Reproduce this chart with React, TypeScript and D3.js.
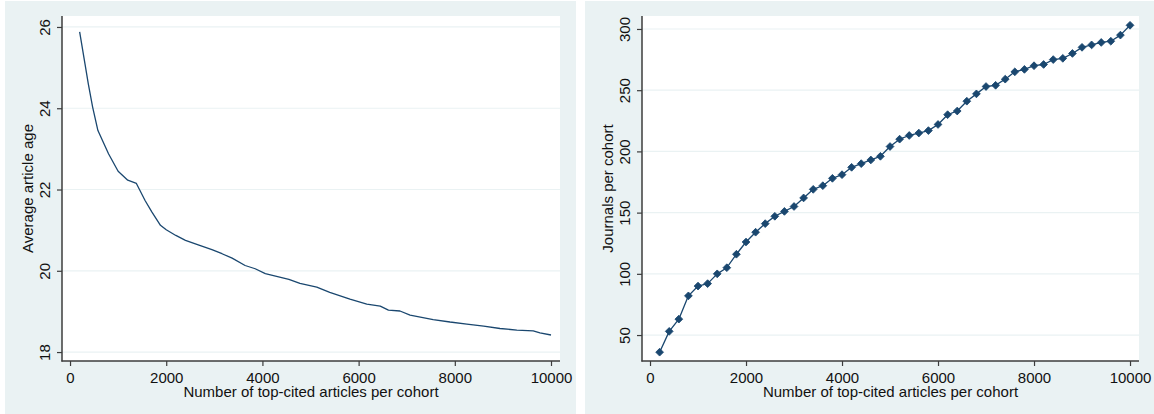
import React, { useEffect, useRef } from "react";
import * as d3 from "d3";

// Left panel: average article age vs number of top-cited articles per cohort
const ageX = [200, 310, 380, 470, 580, 800, 1000, 1200, 1380, 1560, 1700, 1880, 2000, 2200, 2400, 2680, 2950, 3160, 3370, 3640, 3850, 4060, 4550, 4780, 5130, 5400, 5820, 6170, 6450, 6620, 6860, 7070, 7550, 7900, 8250, 8600, 8940, 9290, 9630, 9770, 10000];
const ageY = [25.88, 25.1, 24.6, 24.03, 23.45, 22.88, 22.45, 22.23, 22.15, 21.73, 21.45, 21.12, 21.01, 20.87, 20.75, 20.63, 20.52, 20.42, 20.31, 20.13, 20.05, 19.93, 19.79, 19.69, 19.6, 19.47, 19.3, 19.18, 19.13, 19.03, 19.01, 18.91, 18.8, 18.74, 18.69, 18.64, 18.58, 18.54, 18.52, 18.47, 18.42];

// Right panel: journals per cohort
const journalsX = [200, 400, 600, 800, 1000, 1200, 1400, 1600, 1800, 2000, 2200, 2400, 2600, 2800, 3000, 3200, 3400, 3600, 3800, 4000, 4200, 4400, 4600, 4800, 5000, 5200, 5400, 5600, 5800, 6000, 6200, 6400, 6600, 6800, 7000, 7200, 7400, 7600, 7800, 8000, 8200, 8400, 8600, 8800, 9000, 9200, 9400, 9600, 9800, 10000];
const journalsY = [36, 53, 63, 82, 90, 92, 100, 105, 116, 126, 134, 141, 147, 151, 155, 162, 169, 172, 178, 181, 187, 190, 193, 196, 204, 210, 213, 215, 217, 222, 230, 233, 241, 247, 253, 254, 259, 265, 267, 270, 271, 275, 276, 280, 285, 287, 289, 290, 295, 303];

const xTicks = [0, 2000, 4000, 6000, 8000, 10000];
const ageTicks = [18, 20, 22, 24, 26];
const journalTicks = [50, 100, 150, 200, 250, 300];

const xTitle = "Number of top-cited articles per cohort";
const ageTitle = "Average article age";
const journalsTitle = "Journals per cohort";

const BG = "#eaf2f3";
const NAVY = "#1a476f";
const AXIS = "#3c3c3c";
const FONT = "'Liberation Sans', Arial, sans-serif";

export default function App() {
  const ref = useRef<SVGSVGElement | null>(null);

  useEffect(() => {
    const svg = d3.select(ref.current);
    svg.selectAll("*").remove();

    const panels = [
      {
        bg: [5, 1, 571, 413],
        plot: { x0: 62, x1: 560, y0: 16, y1: 361 },
        yDomain: [17.78, 26.27],
        yTicks: ageTicks,
        xs: ageX,
        ys: ageY,
        yTitle: ageTitle,
        markers: false,
      },
      {
        bg: [585, 1, 569, 413],
        plot: { x0: 642, x1: 1139, y0: 16, y1: 361 },
        yDomain: [28.8, 310.6],
        yTicks: journalTicks,
        xs: journalsX,
        ys: journalsY,
        yTitle: journalsTitle,
        markers: true,
      },
    ];

    panels.forEach((p) => {
      const g = svg.append("g");
      g.append("rect")
        .attr("x", p.bg[0])
        .attr("y", p.bg[1])
        .attr("width", p.bg[2])
        .attr("height", p.bg[3])
        .attr("fill", BG);
      const { x0, x1, y0, y1 } = p.plot;
      g.append("rect")
        .attr("x", x0)
        .attr("y", y0)
        .attr("width", x1 - x0)
        .attr("height", y1 - y0)
        .attr("fill", "#ffffff");

      const x = d3.scaleLinear().domain([-167, 10187]).range([x0, x1]);
      const y = d3.scaleLinear().domain(p.yDomain).range([y1, y0]);

      // gridlines
      g.selectAll(".grid")
        .data(p.yTicks)
        .join("line")
        .attr("x1", x0)
        .attr("x2", x1)
        .attr("y1", (d) => y(d))
        .attr("y2", (d) => y(d))
        .attr("stroke", BG)
        .attr("stroke-width", 1.2);

      // data line
      const pts = p.xs.map((xv, i) => [xv, p.ys[i]] as [number, number]);
      const line = d3
        .line<[number, number]>()
        .x((d) => x(d[0]))
        .y((d) => y(d[1]));
      g.append("path")
        .attr("d", line(pts) || "")
        .attr("fill", "none")
        .attr("stroke", NAVY)
        .attr("stroke-width", 1.3)
        .attr("stroke-linejoin", "round");

      if (p.markers) {
        const sym = d3.symbol().type(d3.symbolSquare).size(30);
        g.selectAll(".mk")
          .data(pts)
          .join("path")
          .attr("d", sym() || "")
          .attr("transform", (d) => `translate(${x(d[0])},${y(d[1])}) rotate(45)`)
          .attr("fill", NAVY)
          .attr("stroke", NAVY)
          .attr("stroke-width", 0.8);
      }

      // axes
      const yAxis = d3.axisLeft(y).tickValues(p.yTicks).tickSize(5).tickPadding(4).tickFormat((d) => String(d));
      const ya = g.append("g").attr("transform", `translate(${x0},0)`).call(yAxis);
      ya.select(".domain").remove();
      ya.selectAll("line").attr("stroke", AXIS).attr("stroke-width", 1.2);
      ya.selectAll("text")
        .attr("transform", "rotate(-90)")
        .attr("x", 0)
        .attr("y", -12)
        .attr("dy", 0)
        .attr("text-anchor", "middle")
        .attr("font-family", FONT)
        .attr("font-size", 15)
        .attr("fill", "#111");
      ya.attr("font-family", null).attr("font-size", null);
      g.append("line")
        .attr("x1", x0)
        .attr("x2", x0)
        .attr("y1", y0)
        .attr("y2", y1 + 0.6)
        .attr("stroke", AXIS)
        .attr("stroke-width", 1.5);

      const xAxis = d3.axisBottom(x).tickValues(xTicks).tickSize(5).tickPadding(4).tickFormat((d) => String(d));
      const xa = g.append("g").attr("transform", `translate(0,${y1})`).call(xAxis);
      xa.select(".domain").remove();
      xa.selectAll("line").attr("stroke", AXIS).attr("stroke-width", 1.2);
      xa.selectAll("text")
        .attr("y", 22)
        .attr("dy", 0)
        .attr("font-family", FONT)
        .attr("font-size", 15)
        .attr("fill", "#111");
      xa.attr("font-family", null).attr("font-size", null);
      g.append("line")
        .attr("x1", x0 - 0.6)
        .attr("x2", x1)
        .attr("y1", y1)
        .attr("y2", y1)
        .attr("stroke", AXIS)
        .attr("stroke-width", 1.5);

      // titles
      g.append("text")
        .attr("x", (x0 + x1) / 2)
        .attr("y", 397)
        .attr("text-anchor", "middle")
        .attr("font-family", FONT)
        .attr("font-size", 15)
        .attr("fill", "#111")
        .text(xTitle);
      g.append("text")
        .attr("transform", `translate(${x0 - 29},${(y0 + y1) / 2}) rotate(-90)`)
        .attr("text-anchor", "middle")
        .attr("font-family", FONT)
        .attr("font-size", 15)
        .attr("fill", "#111")
        .text(p.yTitle);
    });
  }, []);

  return (
    <svg
      ref={ref}
      width={1154}
      height={414}
      style={{ position: "absolute", left: 0, top: 0, background: "#ffffff" }}
    />
  );
}
